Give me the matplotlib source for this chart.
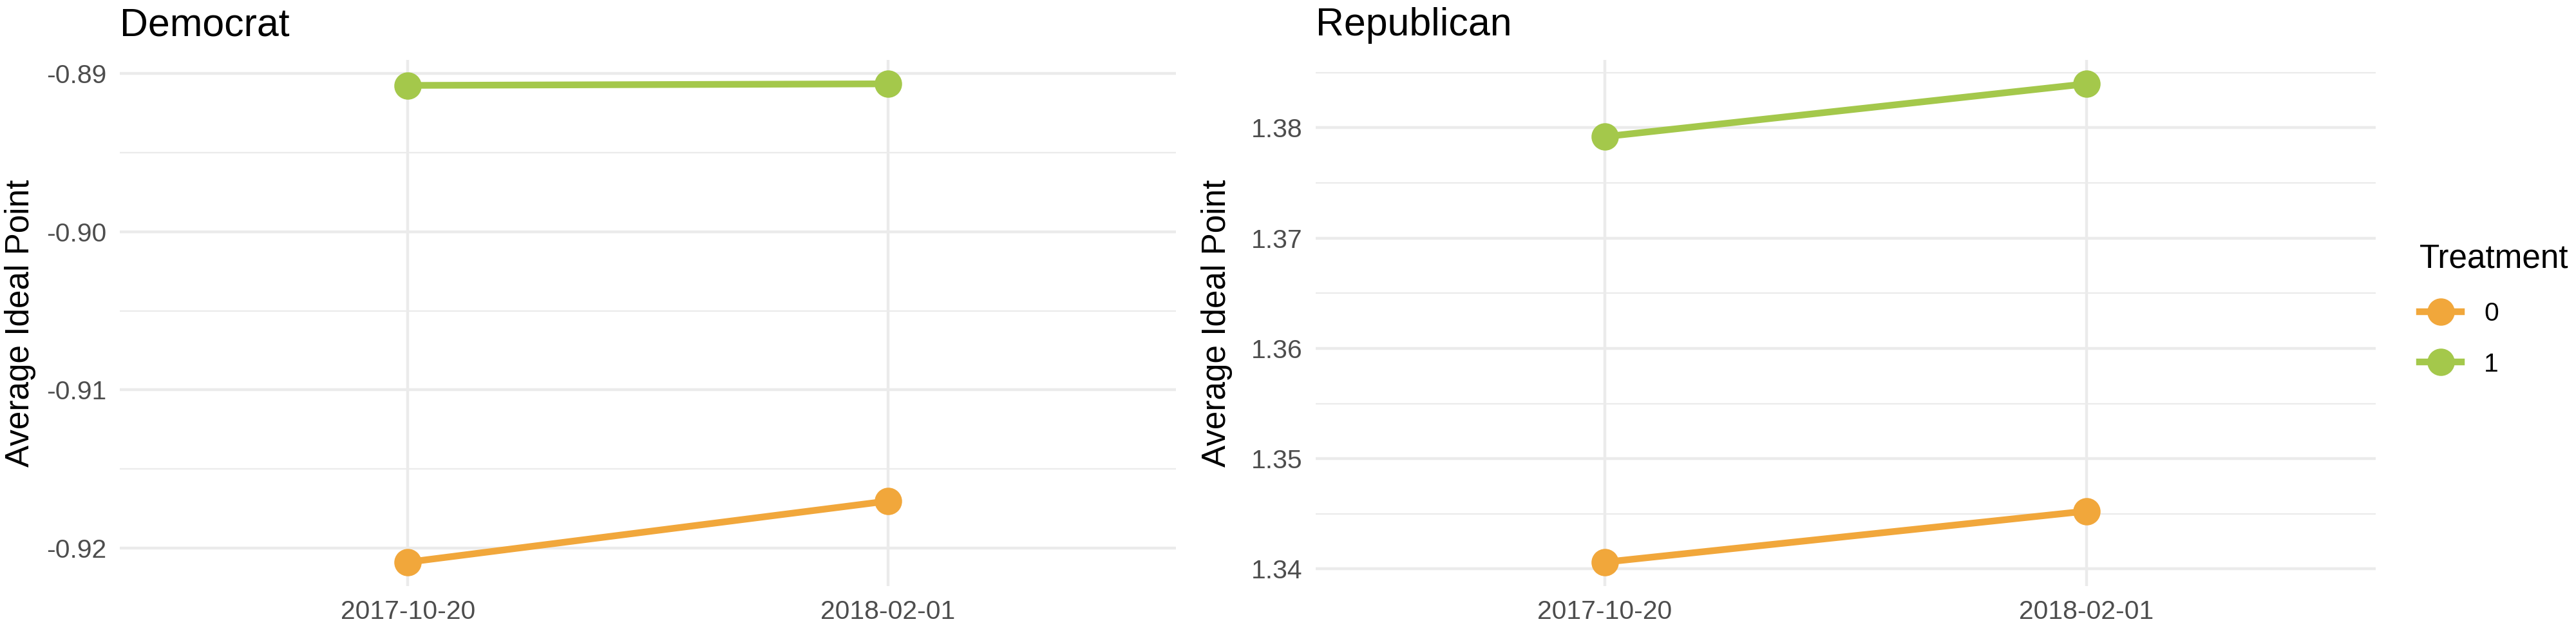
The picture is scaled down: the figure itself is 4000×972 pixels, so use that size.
import numpy as np
import matplotlib
matplotlib.use('Agg')
import matplotlib.pyplot as plt
from matplotlib.ticker import MultipleLocator, FormatStrFormatter
from matplotlib.lines import Line2D

plt.rcParams['font.family'] = ['Liberation Sans', 'DejaVu Sans']
plt.rcParams['axes.unicode_minus'] = False

# data
dates = ['2017-10-20', '2018-02-01']
treatments = ['0', '1']
dem_control = [-0.92088, -0.91702]
dem_treat = [-0.89076, -0.89066]
rep_control = [1.34062, 1.34525]
rep_treat = [1.37920, 1.38399]

colors = {'0': '#F1A73B', '1': '#A4C84B'}
grid_col = '#EBEBEB'
tick_col = '#4D4D4D'

W, H = 4000, 972
fig = plt.figure(figsize=(W / 300, H / 300), dpi=300)

# panel positions (pixels)
panels = [
    ('Democrat', 186, 1826, dem_control, dem_treat),
    ('Republican', 2043, 3689, rep_control, rep_treat),
]
top_px, bot_px = 93, 910
LW, MS = 2.5, 9.2


def style_axis(ax, vals):
    lo, hi = min(vals), max(vals)
    pad = (hi - lo) * 0.05
    ax.set_ylim(lo - pad, hi + pad)
    ax.set_xlim(-0.6, len(dates) - 1 + 0.6)
    ax.set_xticks(range(len(dates)))
    ax.set_xticklabels(dates)
    ax.yaxis.set_major_locator(MultipleLocator(0.01))
    ax.yaxis.set_minor_locator(MultipleLocator(0.005))
    ax.yaxis.set_major_formatter(FormatStrFormatter('%.2f'))
    for s in ax.spines.values():
        s.set_visible(False)
    ax.tick_params(axis='both', which='both', length=0, pad=5,
                   labelsize=9.8, labelcolor=tick_col)
    ax.grid(True, which='major', axis='both', color=grid_col, lw=1.07)
    ax.grid(True, which='minor', axis='y', color=grid_col, lw=0.53)
    ax.set_axisbelow(True)


for title, x0, x1, ctrl, trt in panels:
    ax = fig.add_axes([x0 / W, 1 - bot_px / H, (x1 - x0) / W, (bot_px - top_px) / H])
    x = np.arange(len(dates))
    for t, vals in zip(treatments, [ctrl, trt]):
        ax.plot(x, vals, color=colors[t], lw=LW, marker='o', ms=MS,
                solid_capstyle='butt', zorder=3)
    style_axis(ax, ctrl + trt)
    fig.text(x0 / W, 1 - 55 / H, title, fontsize=14.6, ha='left', va='baseline')
    fig.text((x0 - 154) / W, 1 - (top_px + bot_px) / 2 / H, 'Average Ideal Point',
             rotation=90, fontsize=12.3, ha='center', va='center')

handles = [Line2D([], [], color=colors[t], lw=LW, marker='o', ms=MS) for t in treatments]
fig.legend(handles, treatments, title='Treatment', loc='upper left',
           bbox_to_anchor=(3757 / W, 1 - 378 / H), frameon=False,
           fontsize=9.8, title_fontsize=12.3, handlelength=1.6,
           labelspacing=1.0, handletextpad=0.85, alignment='left',
           borderaxespad=0, borderpad=0)

fig.savefig('out.png', dpi=300, facecolor='white')
